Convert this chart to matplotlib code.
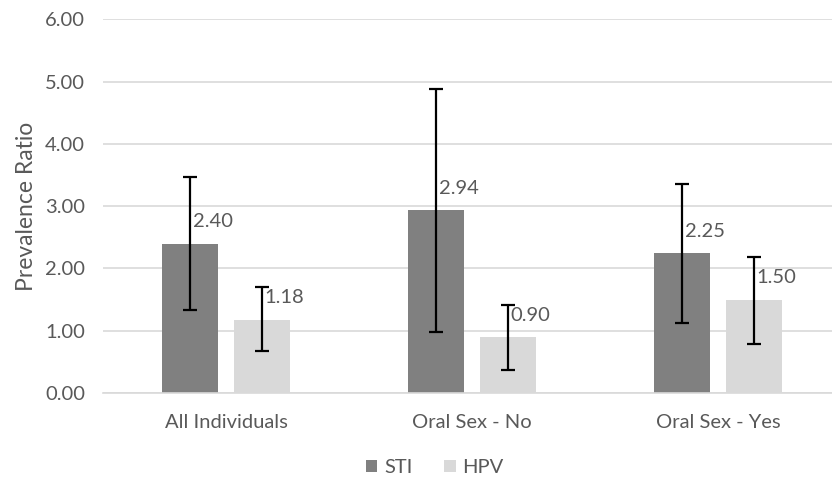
import matplotlib.pyplot as plt
import numpy as np

plt.rcParams["font.family"] = ["Lato", "DejaVu Sans"]

categories = ["All Individuals", "Oral Sex - No", "Oral Sex - Yes"]
sti = [2.40, 2.94, 2.25]
sti_low = [1.34, 0.98, 1.13]
sti_high = [3.46, 4.88, 3.35]
hpv = [1.18, 0.90, 1.50]
hpv_low = [0.67, 0.37, 0.79]
hpv_high = [1.70, 1.41, 2.19]

text_col = "#595959"
grid_col = "#d9d9d9"

fig = plt.figure(figsize=(8.32, 4.8), dpi=100)
ax = fig.add_axes([0.124, 0.181, 0.876, 0.779])

x = np.arange(len(categories))
w = 0.227
off = 0.146

for vals, lo, hi, pos, color, name in [
    (sti, sti_low, sti_high, x - off, "#808080", "STI"),
    (hpv, hpv_low, hpv_high, x + off, "#d9d9d9", "HPV"),
]:
    vals = np.array(vals)
    err = [vals - np.array(lo), np.array(hi) - vals]
    ax.bar(pos, vals, width=w, color=color, label=name, zorder=2)
    ax.errorbar(pos, vals, yerr=err, fmt="none", ecolor="black",
                elinewidth=1.6, capsize=5, capthick=1.6, zorder=3)
    for px, v in zip(pos, vals):
        ax.text(px + 0.01, v + 0.35, f"{v:.2f}", ha="left", va="center",
                fontsize=14.5, color=text_col, zorder=4)

ax.set_xlim(-0.5, 2.463)
ax.set_ylim(0, 6)
ax.set_yticks(np.arange(0, 7, 1))
ax.set_yticklabels([f"{v:.2f}" for v in range(7)])
ax.set_xticks(x)
ax.set_xticklabels(categories)
ax.grid(axis="y", color=grid_col, linewidth=1.2, zorder=0)
ax.set_axisbelow(True)
for s in ["top", "right", "left"]:
    ax.spines[s].set_visible(False)
ax.spines["bottom"].set_color(grid_col)
ax.spines["bottom"].set_linewidth(1.2)
ax.tick_params(axis="both", length=0, labelsize=14.5, labelcolor=text_col)
ax.tick_params(axis="x", pad=15)
ax.tick_params(axis="y", pad=13)
ax.set_ylabel("Prevalence Ratio", fontsize=16.5, color=text_col, labelpad=6)

ax.legend(loc="center", bbox_to_anchor=(0.455, -0.2), ncol=2,
          frameon=False, fontsize=14.5, labelcolor=text_col, handlelength=0.55,
          handleheight=0.55, columnspacing=1.6, handletextpad=0.35,
          borderpad=0.2)

fig.savefig("out.png", dpi=100)
